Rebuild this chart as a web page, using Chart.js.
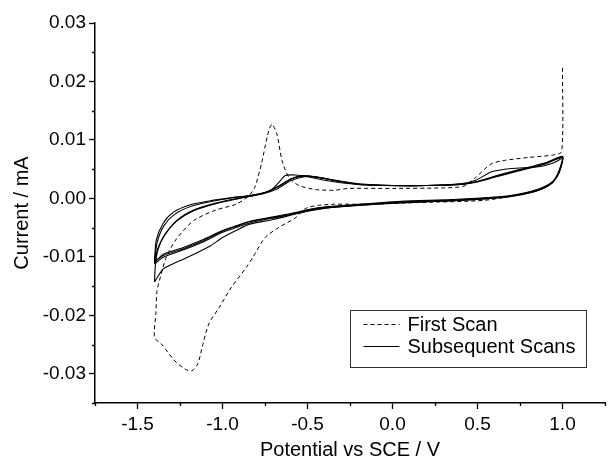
<!DOCTYPE html>
<html lang="en">
<head>
<meta charset="UTF-8">
<title>Cyclic Voltammogram</title>
<script src="https://cdn.jsdelivr.net/npm/chart.js"></script>
<style>
  body { margin: 0; background: #fff; }
  canvas { display: block; }
</style>
</head>
<body>
<canvas id="cv" width="609" height="462"></canvas>
<script>
// axis setup
const xTitle = "Potential vs SCE / V";
const yTitle = "Current / mA";
const xRange = [-1.75, 1.25];
const yRange = [-0.035, 0.03];
const legendLabels = ["First Scan", "Subsequent Scans"];

// [potential V, current mA]
const firstScan = [
  [1.00, 0.0223], [0.995, 0.0080], [0.94, 0.0074], [0.80, 0.0070], [0.66, 0.0065],
  [0.58, 0.0059], [0.49, 0.0036], [0.42, 0.0021], [0.30, 0.0018], [0.00, 0.0017],
  [-0.26, 0.0017], [-0.34, 0.0014], [-0.45, 0.0015], [-0.55, 0.0022], [-0.61, 0.0036],
  [-0.65, 0.0065], [-0.68, 0.0110], [-0.71, 0.0127], [-0.735, 0.0108], [-0.77, 0.0060],
  [-0.81, 0.0019], [-0.85, 0.0003], [-0.92, -0.0010], [-1.04, -0.0020], [-1.17, -0.0038],
  [-1.27, -0.0069], [-1.33, -0.0100], [-1.36, -0.0129], [-1.385, -0.0158], [-1.392, -0.0197],
  [-1.40, -0.0238], [-1.36, -0.0249], [-1.28, -0.0278], [-1.22, -0.0292], [-1.18, -0.0295],
  [-1.145, -0.0283], [-1.12, -0.0255], [-1.08, -0.0214], [-1.02, -0.0187], [-0.95, -0.0153],
  [-0.86, -0.0118], [-0.82, -0.0100], [-0.75, -0.0067], [-0.67, -0.0050], [-0.57, -0.0033],
  [-0.51, -0.0017], [-0.44, -0.0012], [-0.34, -0.0010], [-0.14, -0.0010], [0.15, -0.0007],
  [0.55, -0.0003], [0.82, 0.0012], [0.94, 0.0027], [0.98, 0.0045], [1.00, 0.0065]
];

const scan2 = [
  [-1.40, -0.0143], [-1.395, -0.0115], [-1.38, -0.0088], [-1.34, -0.0062], [-1.27, -0.0039],
  [-1.17, -0.0021], [-1.04, -0.0009], [-0.90, 0.0000], [-0.80, 0.0006], [-0.72, 0.0013],
  [-0.67, 0.0027], [-0.63, 0.0039], [-0.57, 0.0040], [-0.50, 0.0037], [-0.40, 0.0031],
  [-0.25, 0.0025], [-0.05, 0.0022], [0.20, 0.0022], [0.40, 0.0025], [0.49, 0.0031],
  [0.58, 0.0045], [0.70, 0.0051], [0.86, 0.0054], [0.95, 0.0061], [1.00, 0.0068],
  [0.99, 0.0052], [0.97, 0.0038], [0.93, 0.0025], [0.86, 0.0014], [0.72, 0.0005],
  [0.50, -0.0002], [0.20, -0.0006], [-0.10, -0.0010], [-0.30, -0.0014], [-0.50, -0.0022],
  [-0.70, -0.0036], [-0.84, -0.0044], [-0.92, -0.0055], [-1.00, -0.0067], [-1.07, -0.0081],
  [-1.15, -0.0093], [-1.23, -0.0104], [-1.30, -0.0113], [-1.35, -0.0121], [-1.40, -0.0143]
];

const scan3 = [
  [-1.40, -0.0108], [-1.39, -0.0072], [-1.35, -0.0043], [-1.29, -0.0024], [-1.19, -0.0011],
  [-1.07, -0.0004], [-0.95, 0.0001], [-0.84, 0.0005], [-0.75, 0.0010], [-0.67, 0.0021],
  [-0.60, 0.0033], [-0.53, 0.0039], [-0.45, 0.0037], [-0.34, 0.0031], [-0.20, 0.0025],
  [0.00, 0.0022], [0.20, 0.0022], [0.40, 0.0024], [0.50, 0.0029], [0.60, 0.0037],
  [0.74, 0.0048], [0.90, 0.0060], [1.00, 0.0071],
  [0.99, 0.0055], [0.97, 0.0040], [0.94, 0.0027], [0.88, 0.0017], [0.80, 0.0010],
  [0.64, 0.0002], [0.35, -0.0003], [0.05, -0.0006], [-0.24, -0.0012], [-0.44, -0.0017],
  [-0.60, -0.0027], [-0.71, -0.0033], [-0.84, -0.0040], [-0.91, -0.0047], [-1.00, -0.0056],
  [-1.11, -0.0072], [-1.23, -0.0086], [-1.35, -0.0098], [-1.40, -0.0108]
];

const scan4 = [
  [-1.40, -0.0112], [-1.385, -0.0076], [-1.345, -0.0047], [-1.28, -0.0027], [-1.18, -0.0013],
  [-1.06, -0.0005], [-0.94, 0.0001], [-0.83, 0.0005], [-0.74, 0.0011], [-0.66, 0.0022],
  [-0.59, 0.0034], [-0.52, 0.0038], [-0.44, 0.0036], [-0.33, 0.0030], [-0.20, 0.0024],
  [0.00, 0.0022], [0.20, 0.0022], [0.40, 0.0024], [0.50, 0.0028], [0.60, 0.0036],
  [0.74, 0.0047], [0.90, 0.0059], [1.00, 0.0070],
  [0.99, 0.0054], [0.97, 0.0039], [0.94, 0.0026], [0.88, 0.0016], [0.80, 0.0009],
  [0.64, 0.0001], [0.35, -0.0004], [0.05, -0.0007], [-0.24, -0.0013], [-0.44, -0.0018],
  [-0.60, -0.0028], [-0.71, -0.0034], [-0.84, -0.0042], [-0.91, -0.0049], [-1.00, -0.0058],
  [-1.11, -0.0074], [-1.23, -0.0088], [-1.35, -0.0101], [-1.40, -0.0112]
];

const scan5 = [
  [-1.40, -0.0110], [-1.38, -0.0085], [-1.34, -0.0063], [-1.27, -0.0038], [-1.17, -0.0020],
  [-1.04, -0.0008], [-0.88, 0.0002], [-0.76, 0.0008], [-0.68, 0.0016], [-0.60, 0.0030],
  [-0.52, 0.0037], [-0.44, 0.0036], [-0.33, 0.0030], [-0.20, 0.0024], [0.00, 0.0022],
  [0.20, 0.0022], [0.40, 0.0024], [0.50, 0.0029], [0.60, 0.0038], [0.74, 0.0049],
  [0.90, 0.0061], [1.00, 0.0072],
  [0.99, 0.0056], [0.97, 0.0041], [0.94, 0.0028], [0.88, 0.0018], [0.80, 0.0011],
  [0.64, 0.0003], [0.35, -0.0002], [0.05, -0.0005], [-0.24, -0.0011], [-0.44, -0.0016],
  [-0.60, -0.0026], [-0.71, -0.0032], [-0.84, -0.0039], [-0.91, -0.0046], [-1.00, -0.0055],
  [-1.11, -0.0070], [-1.23, -0.0084], [-1.35, -0.0096], [-1.40, -0.0110]
];

const subsequentScans = [scan2, scan3, scan4, scan5];

const FONT = "Arial, 'Liberation Sans', sans-serif";

function isMajor(v, step) {
  const r = v / step;
  return Math.abs(r - Math.round(r)) < 1e-6;
}

function toPoints(arr) {
  return arr.map(p => ({ x: p[0], y: p[1] }));
}

// minor ticks (shorter) + boxed legend inside the plot
const extras = {
  id: 'extras',
  afterDraw(chart) {
    const { ctx, chartArea, scales } = chart;
    ctx.save();
    ctx.strokeStyle = '#000';
    ctx.lineWidth = 1.3;
    ctx.beginPath();
    scales.x.ticks.forEach(t => {
      if (isMajor(t.value, 0.5)) return;
      const px = Math.round(scales.x.getPixelForValue(t.value)) + 0.5;
      ctx.moveTo(px, chartArea.bottom);
      ctx.lineTo(px, chartArea.bottom + 3);
    });
    scales.y.ticks.forEach(t => {
      if (isMajor(t.value, 0.01)) return;
      const py = Math.round(scales.y.getPixelForValue(t.value)) + 0.5;
      ctx.moveTo(chartArea.left, py);
      ctx.lineTo(chartArea.left - 3, py);
    });
    ctx.stroke();

    const w = 236, h = 57;
    const bx = Math.round(chartArea.right - 19 - w) + 0.5;
    const by = Math.round(chartArea.bottom - 36 - h) + 0.5;
    ctx.strokeStyle = '#333';
    ctx.lineWidth = 1;
    ctx.strokeRect(bx, by, w, h);
    ctx.font = '20px ' + FONT;
    ctx.fillStyle = '#000';
    ctx.textBaseline = 'middle';
    legendLabels.forEach((label, i) => {
      const ly = by + 14 + i * 22;
      ctx.beginPath();
      ctx.setLineDash(i === 0 ? [4, 3] : []);
      ctx.strokeStyle = '#000';
      ctx.moveTo(bx + 13, ly);
      ctx.lineTo(bx + 49, ly);
      ctx.stroke();
      ctx.setLineDash([]);
      ctx.fillText(label, bx + 57, ly + 1);
    });
    ctx.restore();
  }
};

const datasets = [{
  label: legendLabels[0],
  data: toPoints(firstScan),
  borderColor: '#000',
  borderWidth: 1,
  borderDash: [4, 3],
  tension: 0.25
}];
subsequentScans.forEach(s => {
  datasets.push({
    label: legendLabels[1],
    data: toPoints(s),
    borderColor: '#000',
    borderWidth: 1.1,
    tension: 0.25
  });
});

new Chart(document.getElementById('cv'), {
  type: 'scatter',
  data: { datasets },
  options: {
    responsive: false,
    animation: false,
    showLine: true,
    elements: { point: { radius: 0 } },
    layout: { padding: { top: 23, right: 2, left: 0, bottom: 0 } },
    plugins: { legend: { display: false }, tooltip: { enabled: false } },
    scales: {
      x: {
        type: 'linear',
        min: xRange[0],
        max: xRange[1],
        afterFit: s => { s.height = 59; },
        border: { display: true, color: '#000', width: 1.5 },
        grid: {
          drawOnChartArea: false,
          tickLength: 6,
          tickWidth: 1.3,
          tickColor: c => (c.tick && isMajor(c.tick.value, 0.5)) ? '#000' : 'rgba(0,0,0,0)'
        },
        ticks: {
          stepSize: 0.25,
          autoSkip: false,
          maxRotation: 0,
          padding: 4,
          color: '#000',
          font: { family: FONT, size: 19 },
          callback: v => isMajor(v, 0.5) ? v.toFixed(1) : ''
        },
        title: {
          display: true,
          text: xTitle,
          color: '#000',
          font: { family: FONT, size: 20 },
          padding: { top: 0, bottom: 0 }
        }
      },
      y: {
        type: 'linear',
        min: yRange[0],
        max: yRange[1],
        afterFit: s => { s.width = 95; },
        border: { display: true, color: '#000', width: 1.5 },
        grid: {
          drawOnChartArea: false,
          tickLength: 6,
          tickWidth: 1.3,
          tickColor: c => (c.tick && isMajor(c.tick.value, 0.01)) ? '#000' : 'rgba(0,0,0,0)'
        },
        ticks: {
          stepSize: 0.005,
          autoSkip: false,
          padding: 3,
          color: '#000',
          font: { family: FONT, size: 19 },
          callback: v => isMajor(v, 0.01) ? (Math.abs(v) < 1e-9 ? 0 : v).toFixed(2) : ''
        },
        title: {
          display: true,
          text: yTitle,
          color: '#000',
          font: { family: FONT, size: 20 },
          padding: { top: 10, bottom: 0 }
        }
      }
    }
  },
  plugins: [extras]
});
</script>
</body>
</html>
